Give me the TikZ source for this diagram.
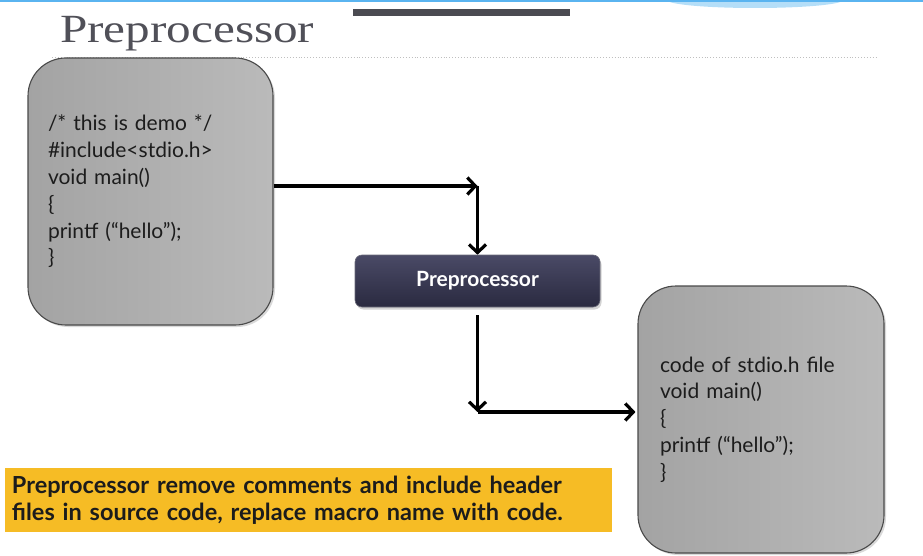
\documentclass[tikz,border=0pt]{standalone}
\usepackage{fontspec}
\setmainfont{Lato}
\newfontfamily\titlefont{Liberation Serif}
\usetikzlibrary{arrows.meta,shadows}

\definecolor{titlegray}{HTML}{505058}
\definecolor{codeink}{HTML}{1C1C1C}
\definecolor{boxedge}{HTML}{4A4A4A}
\definecolor{navytop}{HTML}{4A4A66}
\definecolor{navybot}{HTML}{2A2A40}
\definecolor{notefill}{HTML}{F6BC25}
\definecolor{topblue}{HTML}{5AB4F0}
\definecolor{paleblue}{HTML}{B4DEF8}
\definecolor{barcol}{HTML}{4B4B52}

\tikzset{
  codebox/.style={draw=boxedge, line width=1.1pt, rounded corners=38pt,
    left color=black!36, right color=black!27,
    drop shadow={opacity=0.3, shadow xshift=2pt, shadow yshift=-2pt},
    align=left, text=codeink, font=\fontsize{21}{26.8}\selectfont},
  stagebox/.style={rounded corners=7pt, top color=navytop, bottom color=navybot,
    draw=navybot!70, line width=0.6pt,
    drop shadow={opacity=0.35, shadow xshift=1.5pt, shadow yshift=-2.5pt},
    text=white, font=\fontsize{21}{21}\selectfont\bfseries},
  notebox/.style={fill=notefill, align=left, text=codeink, inner ysep=0pt,
    font=\fontsize{23.5}{27}\selectfont\bfseries},
  flow/.style={line width=3.2pt, -{Straight Barb[length=8pt,width=17pt]}}
}

\begin{document}
\begin{tikzpicture}[x=1pt,y=-1pt]
\useasboundingbox (0,0) rectangle (923,556);

% slide header decoration
\fill[paleblue] (755,0) ellipse [x radius=88, y radius=8];
\draw[topblue, line width=2pt] (0,1) -- (923,1);
\fill[barcol] (353,9) rectangle (570,16);
\draw[black!25, dotted, line width=0.9pt] (52,57) -- (878,57);

% title
\node[anchor=base west, inner sep=0pt, text=titlegray,
      font=\titlefont\fontsize{40}{40}\selectfont] (title) at (60,43)
      {\scalebox{1.23}[1]{Preprocessor}};

% source file
\node[codebox, minimum width=245pt, minimum height=267pt, inner xsep=20pt,
      text width=205pt] (src) at (150.5,191.5)
  {/* this is demo */\\ \#include<stdio.h>\\ void main()\\ \{\\ printf (“hello”);\\ \}};

% preprocessor stage
\node[stagebox, minimum width=245pt, minimum height=52pt] (pp) at (477.5,281) {Preprocessor};

% expanded file
\node[codebox, minimum width=246pt, minimum height=267pt, inner xsep=22pt,
      text width=202pt] (dst) at (761,419.5)
  {code of stdio.h file\\ void main()\\ \{\\ printf (“hello”);\\ \}};

% note
\node[notebox, minimum width=607pt, minimum height=64pt, inner xsep=7pt,
      text width=593pt] (note) at (308.5,500)
  {Preprocessor remove comments and include header\\ files in source code, replace macro name with code.};

% connectors
\coordinate (j1) at (477.5,186);
\coordinate (j2) at (477.5,412);
\draw[flow] ([yshift=5.5pt]src.east) -- (j1);
\draw[flow] (j1) -- (pp.north);
\draw[flow] ([yshift=-8pt]pp.south) -- (j2);
\draw[flow] (j2) -- ([xshift=-2pt]dst.west |- j2);
\end{tikzpicture}
\end{document}
